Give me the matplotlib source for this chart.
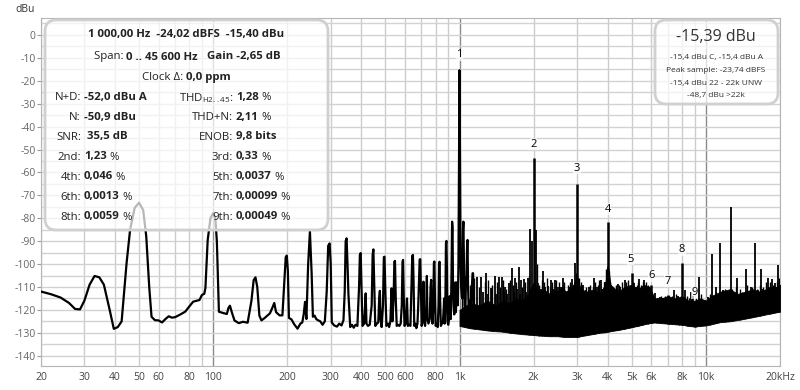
import numpy as np
import matplotlib
matplotlib.use('Agg')
import matplotlib.pyplot as plt
from matplotlib.patches import FancyBboxPatch
from matplotlib.transforms import IdentityTransform
from matplotlib.ticker import NullLocator

plt.rcParams['font.family'] = ['Open Sans', 'DejaVu Sans']
plt.rcParams['mathtext.fontset'] = 'custom'
plt.rcParams['mathtext.rm'] = 'Open Sans'
plt.rcParams['axes.unicode_minus'] = False

# spectrum trace 20 Hz .. 1.15 kHz (Hz, dBu)
trace_f = [20, 22, 24, 26, 27.5, 28.8, 30, 31.5, 33, 34.5, 36, 38, 39.5, 41, 42.5, 43.5,
           44.5, 46, 48, 50, 52, 53.5, 55, 56.2, 58, 60, 62, 64, 66, 68, 70, 73, 77, 80,
           83, 88, 90, 92, 93, 95, 97.5, 100, 102, 103.5, 105.5, 110, 113.6, 115.5, 117,
           119, 122, 127, 132, 138, 143, 146, 148.5, 151, 154, 157, 162, 170, 174, 177,
           180, 186, 191, 194, 197, 199, 201, 203, 208, 213, 220, 226, 230, 233, 236, 239,
           243, 247, 251, 254, 258, 262, 266, 272, 278, 284, 289, 293, 297, 300, 303, 310,
           318, 325, 332, 338, 342, 345, 348, 351, 354, 357, 360, 366, 372, 378, 385, 391,
           394, 397, 400, 404, 410, 413, 416, 419, 425, 432, 440, 444, 447, 451, 455, 462,
           468, 472, 475, 478, 483, 489, 493, 496, 500, 505, 512, 518, 524, 530, 534, 540,
           544, 547, 551, 556, 563, 570, 577, 583, 587, 590, 594, 598, 605, 612, 617, 625,
           632, 638, 643, 647, 651, 655, 662, 668, 675, 680, 689, 693, 697, 702, 710, 714,
           718, 725, 733, 737, 741, 748, 757, 763, 767, 771, 777, 783, 787, 791, 795, 800,
           808, 816, 822, 826, 830, 834, 840, 848, 856, 862, 866, 870, 876, 881, 885, 889,
           893, 900, 907, 912, 916, 922, 928, 933, 937, 941, 946, 952, 958, 962, 966, 972,
           977, 984, 990, 995, 1000, 1005, 1010, 1015, 1025, 1033, 1037, 1041, 1048, 1055,
           1062, 1068, 1074, 1078, 1083, 1090, 1100, 1110, 1120, 1130, 1135, 1140, 1150]
trace_db = [-112, -113.2, -114.6, -117, -119.6, -119.8, -116, -109, -105.2, -105.8, -109,
            -120, -128.3, -127.5, -125, -112, -99.7, -85, -75.5, -73.2, -76.5, -88, -110,
            -123, -124.5, -124.6, -125.5, -124, -122.8, -123.4, -123.2, -122.2, -120.8,
            -118.5, -116.4, -115.7, -113.5, -113, -110.5, -89.5, -80, -77.8, -80, -90,
            -120.8, -121.4, -121.8, -119, -118.2, -121, -124.6, -125.8, -125.2, -125.6,
            -116, -107, -105.8, -110, -122.5, -124.6, -123.5, -121.5, -119, -117, -121,
            -122.4, -122.4, -110, -97, -96.3, -103, -123.5, -124.2, -126.2, -128.2, -126,
            -125.5, -122, -116.5, -124, -100, -85.8, -104, -123, -122.5, -124, -124.5,
            -125, -126.5, -125, -112, -92, -91, -100, -125.5, -126.8, -127.3, -126,
            -126.8, -124.5, -112, -90, -88.8, -100, -113, -120, -127.5, -126.5, -127.8,
            -126.5, -127, -110, -96, -95.2, -110, -127, -126, -120, -112.8, -126, -127,
            -126.5, -118, -96, -93.6, -110, -127, -126, -125.5, -115, -111.7, -124,
            -127.5, -118, -97, -96.8, -112, -127, -126, -127.5, -125, -110.6, -125, -115,
            -99, -98.6, -115, -127, -126.5, -127, -126, -118, -99, -98.2, -115, -127,
            -126, -115, -127, -126.5, -127, -110, -96.5, -96, -108, -127, -126, -128,
            -126, -118, -98, -97.9, -112, -127, -124, -107.7, -125, -127, -118, -105.2,
            -124, -126, -124, -110, -106.9, -122, -126, -118, -99.5, -98.9, -115, -127,
            -126, -127.5, -118, -99.7, -99, -115, -127, -126, -125.5, -120, -115, -126,
            -118, -91, -89.9, -102, -125, -126.5, -124, -114, -119, -124, -104, -81.5,
            -84, -110, -118, -122, -112, -108, -121, -115, -108, -118, -100, -60, -15.4,
            -60, -100, -110, -115, -85, -81.5, -95, -118, -122, -107, -105, -90, -89.5,
            -110, -120, -116, -122, -112, -104, -104, -118, -122]

# dense noise band above 1 kHz: lower and upper edge of the solid part
band_f = [1000, 1100, 1200, 1300, 1400, 1500, 1600, 1700, 1800, 1900, 2000, 2100, 2200,
          2300, 2400, 2500, 2600, 2700, 2800, 2900, 3000, 3100, 3300, 3500, 3700, 3900,
          4000, 4100, 4400, 4700, 5000, 5300, 5600, 5900, 6200, 6600, 7000, 7500, 8000,
          8500, 9000, 9500, 10000, 10500, 11000, 11500, 12500, 13500, 14500, 15500,
          16500, 17500, 18500, 19500, 20000]
band_lo = [-127, -128, -128.5, -129, -129.3, -129.5, -130, -130.3, -130.6, -130.8, -131,
           -131.2, -131.3, -131.5, -131.5, -131.5, -131.7, -131.8, -131.8, -131.8, -131.8,
           -131.5, -131, -130.5, -130, -129.8, -129.5, -129.3, -128.8, -128.2, -127.5,
           -127, -126.3, -125.8, -125.5, -125.8, -126, -126.3, -126.5, -127, -127.3, -127,
           -126.8, -126.3, -125.8, -125.3, -125, -124.4, -123.8, -123.2, -122.6, -122,
           -121.5, -121, -120.8]
band_hi = [-120, -117, -118, -116, -118, -116, -117, -115, -116, -113, -108, -112, -111,
           -113, -111, -112, -110, -112, -111, -109, -105, -111, -112, -111, -113, -109,
           -100, -109, -112, -110, -109, -111, -109, -110, -115, -115, -114, -115, -114,
           -116, -116, -115, -116, -114, -113, -112, -111, -113, -112, -111, -112, -111,
           -110, -110, -109]

# tall spikes rising out of the noise band
spike_f = [1179, 1223, 1250, 1283, 1310, 1336, 1360, 1387, 1410, 1440, 1485, 1510, 1533,
           1560, 1586, 1631, 1660, 1684, 1710, 1737, 1760, 1782, 1828, 1860, 1888, 1936,
           1965, 2040, 2091, 2140, 2189, 2230, 2279, 2350, 2400, 2440, 2480, 2518, 2580,
           2641, 2690, 2726, 2780, 2857, 2900, 2947, 3140, 3159, 3200, 3277, 3350, 3450,
           3516, 3600, 3737, 3800, 3900, 4002, 4169, 4250, 4397, 4500, 4600, 4691, 4800,
           5103, 5200, 5378, 5500, 5632, 5750, 6100, 6232, 6400, 6528, 6700, 7200, 7458,
           7700, 8100, 8260, 8700, 8900, 9200, 9390, 9880, 10200, 10570, 10800, 10970,
           11200, 11420, 11780, 12200, 12600, 13000, 13400, 13900, 14200, 14500, 15000,
           15200, 15500, 15800, 16000, 16300, 16800, 17000, 17300, 17800, 18000, 18500,
           19000, 19300, 19700]
spike_db = [-105.5, -105.5, -112, -103.7, -113, -110.6, -111, -105.1, -113, -105.8,
            -105.8, -112, -109.8, -113, -108.1, -101.6, -112, -106.2, -111, -101.4, -113,
            -106.9, -106.5, -112, -106.2, -84.8, -90, -85.1, -108.4, -111, -103, -110,
            -109.6, -106.9, -111, -106.9, -112, -109.8, -110, -106.2, -112, -114.2, -110,
            -106.6, -111, -99.7, -109.8, -109.1, -112, -111.3, -110, -112, -106.2, -110,
            -106.9, -111, -108, -101.1, -110.6, -111, -108.7, -110, -112, -106.9, -111,
            -108.4, -110, -106.6, -112, -106.9, -111, -114, -112.8, -115, -114.2, -115,
            -115, -111.3, -114, -116, -111.3, -112, -114, -116, -105.5, -115.7, -114.2,
            -95.6, -115, -109.8, -113, -90.9, -111.3, -112, -74.9, -112, -106.2, -112.8,
            -113, -102.3, -112, -109.8, -113, -90.9, -112, -111.3, -102.3, -111, -111.3,
            -105.9, -110, -106.4, -108.4, -110, -100.4]

# shorter spikes that make the ragged top of the noise band
fine_f = [1020, 1050, 1100, 1150, 1200, 1265, 1300, 1350, 1420, 1460, 1500, 1545, 1610,
          1650, 1700, 1800, 1850, 1910, 2060, 2110, 2160, 2210, 2260, 2320, 2380, 2460,
          2540, 2620, 2660, 2750, 2820, 2880, 2970, 3050, 3100, 3250, 3400, 3480, 3560,
          3650, 3700, 3850, 3950, 4050, 4100, 4300, 4350, 4450, 4550, 4650, 4750, 4850,
          4900, 5050, 5150, 5250, 5300, 5450, 5550, 5700, 5800, 5950, 6050, 6300, 6600,
          6800, 7100, 7300, 7600, 7800, 8400, 8550, 8800, 9100, 9600, 10400, 11000,
          11600, 12000, 12400, 12800, 13200, 13700, 14000, 14700, 15400, 16100, 16600,
          17100, 17500, 18200, 18800, 19500, 19900]
fine_db = [-112, -108, -109, -106, -110, -108, -107, -109, -108, -110, -107, -111, -107,
           -109, -108, -110, -108, -105, -100, -109, -107, -108, -106, -110, -108, -107,
           -108, -111, -108, -109, -108, -109, -104, -106, -108, -110, -109, -110, -108,
           -109, -107, -108, -102, -103, -108, -109, -111, -109, -108, -110, -108, -107,
           -109, -108, -111, -109, -108, -109, -108, -108, -109, -110, -113, -115, -114,
           -114, -114, -114, -113, -115, -114, -115, -115, -115, -113, -113, -112, -113,
           -111, -112, -111, -110, -111, -112, -109, -110, -111, -109, -110, -108, -108,
           -109, -108, -106]

# harmonics 2..9 (1 kHz fundamental is in the trace)
harm_f = [2000, 3000, 4000, 5000, 6000, 7000, 8000, 9000]
harm_db = [-53.6, -64.9, -81.8, -104.1, -109.1, -113.5, -99.7, -118.0]

label_txt = ['1', '2', '3', '4', '5', '6', '7', '8', '9']
label_f = [1000, 2000, 3000, 4000, 4950, 6000, 7000, 8000, 9000]
label_db = [-8.7, -47.6, -58.1, -76.0, -97.9, -105.1, -107.4, -93.7, -112.6]

xticks = [20, 30, 40, 50, 60, 80, 100, 200, 300, 400, 500, 600, 800,
          1000, 2000, 3000, 4000, 5000, 6000, 8000, 10000, 20000]
xtick_labels = ['20', '30', '40', '50', '60', '80', '100', '200', '300', '400', '500',
                '600', '800', '1k', '2k', '3k', '4k', '5k', '6k', '8k', '10k', '20kHz']
yticks = list(range(-140, 1, 10))

fig = plt.figure(figsize=(8, 3.9), dpi=100)
ax = fig.add_axes([41 / 800, 24 / 390, 739 / 800, 348 / 390])
ax.set_xscale('log')
ax.set_xlim(20, 20000)
ax.set_ylim(-144.5, 7.4)

# grid
grid_f = [d * m for d in (10, 100, 1000) for m in range(2, 10)] + [100, 1000, 10000, 20000]
for f in grid_f:
    dark = f in (100, 1000, 10000)
    ax.axvline(f, color='#8a8a8a' if dark else '#cccccc', lw=1, zorder=0)
for y in range(-140, 6, 5):
    ax.axhline(y, color='#d2d2d2', lw=1, zorder=0)

ax.set_xticks(xticks, xtick_labels)
ax.xaxis.set_minor_locator(NullLocator())
ax.set_yticks(yticks, [str(v) for v in yticks])
ax.tick_params(axis='x', length=0, pad=4, labelsize=7.5, labelcolor='#444444')
ax.tick_params(axis='y', length=3, pad=1, color='#999999', labelsize=7.5,
               labelcolor='#666666')
for s in ax.spines.values():
    s.set_color('#b5b5b5')

# spectrum
ax.plot(trace_f, trace_db, color='black', lw=1.6, zorder=3)
ax.fill_between(band_f, band_lo, band_hi, color='black', lw=0.6, zorder=3)
lf = np.log10(band_f)
base = np.interp(np.log10(spike_f), lf, band_lo)
ax.vlines(spike_f, base, spike_db, color='black', lw=1.3, zorder=3)
fbase = np.interp(np.log10(fine_f), lf, band_lo)
ax.vlines(fine_f, fbase, fine_db, color='black', lw=1.0, zorder=3)
hbase = np.interp(np.log10(harm_f), lf, band_lo)
ax.vlines(harm_f, hbase, harm_db, color='black', lw=1.8, zorder=4)

for t, f, y in zip(label_txt, label_f, label_db):
    ax.text(f, y, t, ha='center', va='center', fontsize=8, zorder=5,
            bbox=dict(facecolor='white', alpha=0.7, edgecolor='none', pad=0.3))

H = 390
idt = IdentityTransform()
fig.text(25, H - 9, 'dBu', transform=idt, ha='center', va='center',
         fontsize=7.5, color='#333333')

# info boxes (pixel coordinates, y from the top)
for x0, y0, x1, y1 in [(45, 20, 328, 230), (655, 20, 778, 104)]:
    box = FancyBboxPatch((x0, H - y1), x1 - x0, y1 - y0,
                         boxstyle='round,pad=0,rounding_size=11', transform=idt,
                         facecolor=(1, 1, 1, 0.72), edgecolor='#d0d0d0', lw=2, zorder=5)
    fig.add_artist(box)

fig.canvas.draw()
rend = fig.canvas.get_renderer()


def runs(x, y, parts, size=8.2, align='left'):
    texts = []
    for s, w in parts:
        texts.append(fig.text(0, H - y, s, transform=idt, fontsize=size, fontweight=w,
                              ha='left', va='center', color='#222222', zorder=6))
    widths = [t.get_window_extent(rend).width for t in texts]
    if align == 'center':
        x = x - sum(widths) / 2
    elif align == 'right':
        x = x - sum(widths)
    for t, w in zip(texts, widths):
        t.set_x(x)
        x += w


runs(186, 35, [('1 000,00 Hz  -24,02 dBFS  -15,40 dBu', 'bold')], align='center')
runs(187, 57, [('Span: ', 'normal'), ('0 .. 45 600 Hz', 'bold'),
               ('   Gain -2,65 dB', 'bold')], align='center')
runs(186, 77.5, [('Clock \u0394: ', 'normal'), ('0,0 ppm', 'bold')], align='center')

row_y = [97.7, 117.3, 137, 157, 177, 197, 217]
left_lab = ['N+D:', 'N:', 'SNR:', '2nd:', '4th:', '6th:', '8th:']
left_val = [[('-52,0 dBu A', 'bold')], [('-50,9 dBu', 'bold')], [(' 35,5 dB', 'bold')],
            [('1,23', 'bold'), (' %', 'normal')], [('0,046', 'bold'), (' %', 'normal')],
            [('0,0013', 'bold'), (' %', 'normal')], [('0,0059', 'bold'), (' %', 'normal')]]
right_lab = [r'THD$_{\mathrm{H2..45}}$:', 'THD+N:', 'ENOB:', '3rd:', '5th:', '7th:', '9th:']
right_val = [[('1,28', 'bold'), (' %', 'normal')], [('2,11', 'bold'), (' %', 'normal')],
             [('9,8 bits', 'bold')], [('0,33', 'bold'), (' %', 'normal')],
             [('0,0037', 'bold'), (' %', 'normal')], [('0,00099', 'bold'), (' %', 'normal')],
             [('0,00049', 'bold'), (' %', 'normal')]]
for y, ll, lv, rl, rv in zip(row_y, left_lab, left_val, right_lab, right_val):
    runs(81, y, [(ll, 'normal')], align='right')
    runs(84, y, lv)
    runs(233, y, [(rl, 'normal')], align='right')
    runs(236, y, rv)

fig.text(716, H - 37, '-15,39 dBu', transform=idt, fontsize=11.5, ha='center',
         va='center', color='#333333', zorder=6)
small = ['-15,4 dBu C, -15,4 dBu A', 'Peak sample: -23,74 dBFS',
         '-15,4 dBu 22 - 22k UNW', '-48,7 dBu >22k']
for y, s in zip([58, 71, 83.5, 96], small):
    fig.text(716, H - y, s, transform=idt, fontsize=6, ha='center', va='center',
             color='#333333', zorder=6)

fig.savefig('out.png', dpi=100)
